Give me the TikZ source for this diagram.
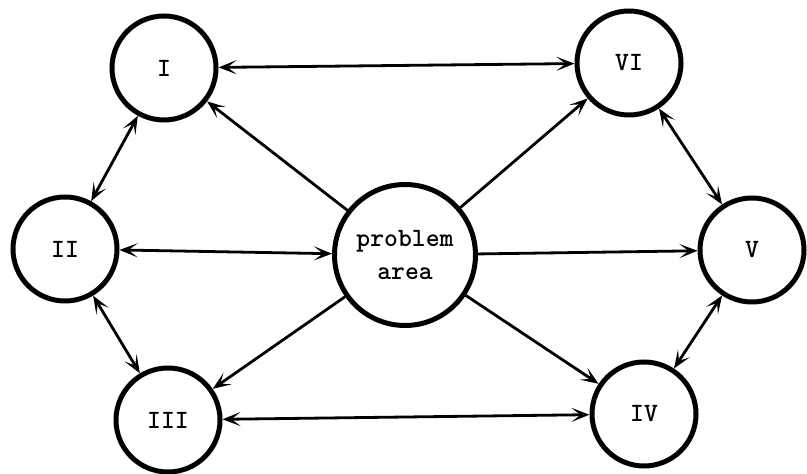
\documentclass[tikz,border=0pt]{standalone}
\usepackage{fontspec}
\setmonofont{Latin Modern Mono Light}
\usetikzlibrary{arrows.meta}

\begin{document}
\begin{tikzpicture}[x=.5pt,y=-.5pt,
	>={Stealth[length=9pt,width=7pt,inset=4.5pt]},
	area/.style={circle,draw,line width=2.5pt,minimum size=#1,inner sep=0pt,align=center,
		font=\fontsize{13.2}{16.5}\selectfont\ttfamily\bfseries},
	link/.style={line width=1.4pt,->},
	both/.style={line width=1.4pt,<->}]
	\useasboundingbox (0,0) rectangle (807,474);

	\node[area=52pt] (I) at (164,68) {I};
	\node[area=52pt] (VI) at (629,63) {VI};
	\node[area=52pt] (II) at (65,249) {II};
	\node[area=52pt] (V) at (752,250) {V};
	\node[area=52pt] (III) at (168,420) {III};
	\node[area=52pt] (IV) at (644,414) {IV};
	\node[area=70.5pt] (pa) at (405,255) {problem\\area};

	\foreach \a/\b in {I/VI,I/II,II/III,III/IV,VI/V,V/IV,II/pa} \draw[both] (\a) -- (\b);
	\foreach \b in {I,VI,V,IV,III} \draw[link] (pa) -- (\b);
\end{tikzpicture}
\end{document}
